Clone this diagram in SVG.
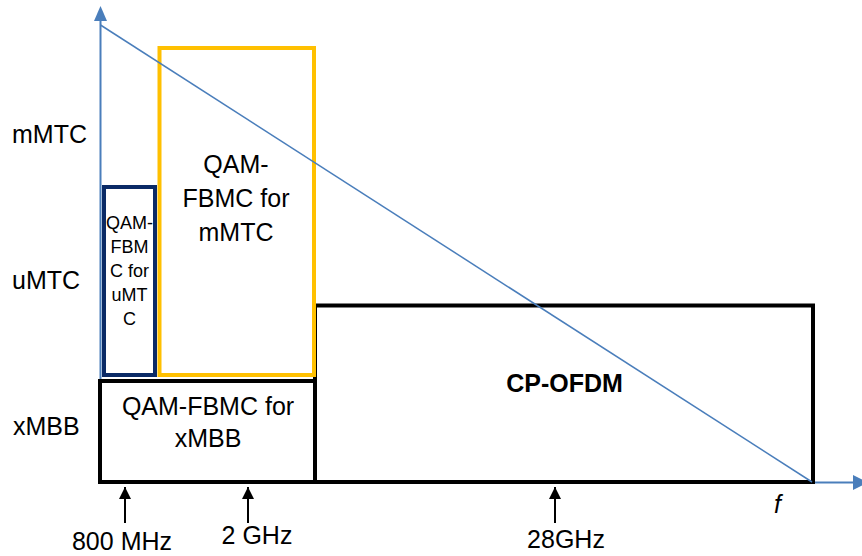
<svg xmlns="http://www.w3.org/2000/svg" width="862" height="556" viewBox="0 0 862 556">
<defs>
<style>
text{font-family:"Liberation Sans",Arial,sans-serif;font-size:25px;fill:#000}
.mid{text-anchor:middle}
text.small{font-size:18px}
.box{fill:#fff;stroke-width:4}
.axis{stroke:#4A7EBB;stroke-width:2;fill:none}
.tick{stroke:#000;stroke-width:2;fill:none}
</style>
<marker id="blackhead" viewBox="0 0 10 10" refX="10" refY="5" markerWidth="14" markerHeight="12" markerUnits="userSpaceOnUse" orient="auto">
<path d="M0,0 L10,5 L0,10 Z" fill="#000"/>
</marker>
</defs>
<rect width="862" height="556" fill="#fff"/>
<g id="axes">
<line class="axis" x1="100.5" y1="482" x2="100.5" y2="20"/>
<path d="M100.5,6 L94,21 L107,21 Z" fill="#4A7EBB"/>
<line class="axis" x1="100" y1="482.5" x2="856" y2="482.5"/>
<path d="M868,482.5 L853,475 L853,490 Z" fill="#4A7EBB"/>
</g>
<g id="node-xmbb">
<rect class="box" x="100" y="381" width="215" height="101" stroke="#000"/>
<text class="mid" x="208" y="415">QAM-FBMC for</text>
<text class="mid" x="208" y="447">xMBB</text>
</g>
<g id="node-cpofdm">
<rect class="box" x="315" y="305.5" width="498" height="176.5" stroke="#000"/>
<text class="mid" x="564.5" y="392" font-weight="bold">CP-OFDM</text>
</g>
<g id="node-mmtc">
<rect class="box" x="159.5" y="48" width="154.5" height="327" stroke="#FFC000"/>
<text class="mid" x="236" y="173">QAM-</text>
<text class="mid" x="236" y="207">FBMC for</text>
<text class="mid" x="236" y="241">mMTC</text>
</g>
<g id="node-umtc">
<rect class="box" x="104" y="187" width="51" height="188" stroke="#0A2A66"/>
<text class="mid small" x="129.5" y="229">QAM-</text>
<text class="mid small" x="129.5" y="253">FBM</text>
<text class="mid small" x="129.5" y="277">C for</text>
<text class="mid small" x="129.5" y="301">uMT</text>
<text class="mid small" x="129.5" y="325">C</text>
</g>
<g id="connectors">
<line x1="100.5" y1="25" x2="812" y2="482" stroke="#4A7EBB" stroke-width="1.5"/>
<line class="tick" x1="125" y1="523" x2="125" y2="487" marker-end="url(#blackhead)"/>
<line class="tick" x1="248" y1="523" x2="248" y2="487" marker-end="url(#blackhead)"/>
<line class="tick" x1="555" y1="523" x2="555" y2="487" marker-end="url(#blackhead)"/>
</g>
<g id="labels">
<text x="12" y="143">mMTC</text>
<text x="12" y="289">uMTC</text>
<text x="13" y="435">xMBB</text>
<text class="mid" x="122" y="550">800 MHz</text>
<text class="mid" x="257" y="544">2 GHz</text>
<text class="mid" x="566" y="548">28GHz</text>
<text x="774" y="513" font-style="italic">f</text>
</g>
</svg>
